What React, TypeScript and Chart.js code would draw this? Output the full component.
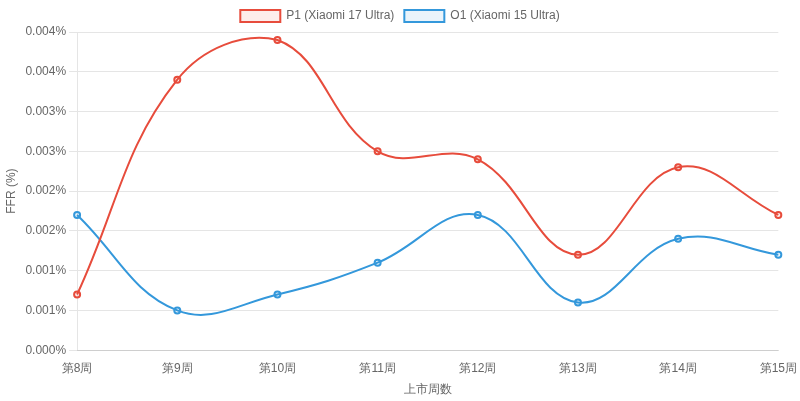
import React, { useEffect, useRef } from "react";
import { Chart, registerables } from "chart.js";

Chart.register(...registerables);

const categories = ["第8周", "第9周", "第10周", "第11周", "第12周", "第13周", "第14周", "第15周"];
const p1Values = [0.0007, 0.0034, 0.0039, 0.0025, 0.0024, 0.0012, 0.0023, 0.0017];
const o1Values = [0.0017, 0.0005, 0.0007, 0.0011, 0.0017, 0.0006, 0.0014, 0.0012];
const seriesLabels = ["P1 (Xiaomi 17 Ultra)", "O1 (Xiaomi 15 Ultra)"];
const yTitle = "FFR (%)";
const xTitle = "上市周数";

export default function App() {
  const ref = useRef<HTMLCanvasElement>(null);
  useEffect(() => {
    if (!ref.current) return;
    const chart = new Chart(ref.current, {
      type: "line",
      data: {
        labels: categories,
        datasets: [
          {
            label: seriesLabels[0],
            data: p1Values,
            borderColor: "#e74c3c",
            backgroundColor: "rgba(231,76,60,0.1)",
            borderWidth: 2,
            tension: 0.4,
            pointRadius: 3,
            pointBorderWidth: 2,
            fill: false,
          },
          {
            label: seriesLabels[1],
            data: o1Values,
            borderColor: "#3498db",
            backgroundColor: "rgba(52,152,219,0.1)",
            borderWidth: 2,
            tension: 0.4,
            pointRadius: 3,
            pointBorderWidth: 2,
            fill: false,
          },
        ],
      },
      options: {
        animation: false,
        responsive: true,
        maintainAspectRatio: false,
        plugins: {
          legend: { position: "top" },
        },
        scales: {
          x: {
            grid: { display: false },
            title: { display: true, text: xTitle },
          },
          y: {
            min: 0,
            max: 0.004,
            ticks: {
              stepSize: 0.0005,
              callback: (v: any) => Number(v).toFixed(3) + "%",
            },
            title: { display: true, text: yTitle },
          },
        },
      },
    });
    return () => chart.destroy();
  }, []);
  return (
    <div style={{ position: "fixed", left: 0, top: 0, width: 800, height: 401 }}>
      <canvas ref={ref} />
    </div>
  );
}
